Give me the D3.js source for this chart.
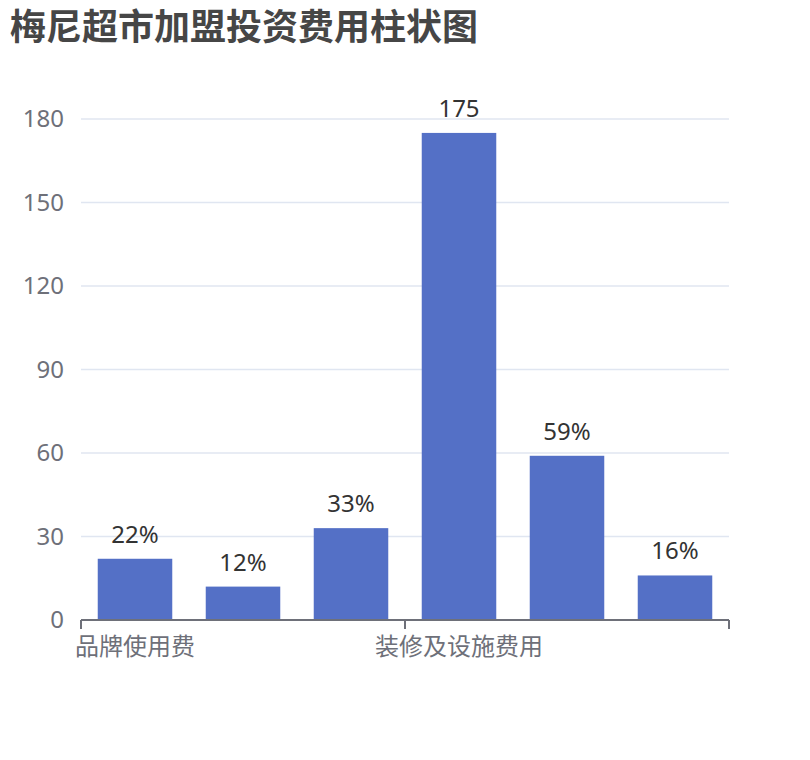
<!DOCTYPE html>
<html>
<head>
<meta charset="utf-8">
<script src="https://cdn.jsdelivr.net/npm/d3@7"></script>
<style>
  body { margin: 0; background: #fff; }
  svg { font-family: "Noto Sans", "Noto Sans CJK SC", sans-serif; }
</style>
</head>
<body>
<svg id="chart" width="810" height="760"></svg>
<script>
// data
const categories = ['品牌使用费', '保证金', '首批进货款', '装修及设施费用', '流动资金', '其他费用'];
const values = [22, 12, 33, 175, 59, 16];
const valueLabels = ['22%', '12%', '33%', '175', '59%', '16%'];
const yTicks = [0, 30, 60, 90, 120, 150, 180];
const shownLabels = [0, 3];   // only every 3rd category label fits

const svg = d3.select('#chart');
const margin = { top: 119, right: 81, bottom: 140, left: 81 };
const width = 810 - margin.left - margin.right;
const height = 760 - margin.top - margin.bottom;

svg.append('text')
    .attr('x', 10)
    .attr('y', 40)
    .attr('fill', '#464646')
    .style('font-size', '36px')
    .style('font-weight', 'bold')
    .text('梅尼超市加盟投资费用柱状图');

const g = svg.append('g')
    .attr('transform', `translate(${margin.left} ${margin.top})`);

const x = d3.scaleBand().domain(categories).range([0, width]).padding(0);
const y = d3.scaleLinear().domain([0, 180]).range([height, 0]);

// grid
g.selectAll('.grid')
    .data(yTicks.filter(d => d > 0))
    .enter().append('line')
    .attr('x1', 0).attr('x2', width)
    .attr('y1', d => y(d)).attr('y2', d => y(d))
    .attr('stroke', '#E0E6F1')
    .attr('stroke-width', 1.5);

// y labels
g.selectAll('.ylab')
    .data(yTicks)
    .enter().append('text')
    .attr('x', -17)
    .attr('y', d => y(d))
    .attr('dy', '0.35em')
    .attr('text-anchor', 'end')
    .attr('fill', '#6E7079')
    .style('font-size', '24px')
    .text(d => d);

// bars
const barW = x.bandwidth() * 0.69;
g.selectAll('.bar')
    .data(values)
    .enter().append('rect')
    .attr('x', (d, i) => x(categories[i]) + (x.bandwidth() - barW) / 2)
    .attr('y', d => y(d))
    .attr('width', barW)
    .attr('height', d => height - y(d))
    .attr('fill', '#5470C6');

g.selectAll('.vlab')
    .data(values)
    .enter().append('text')
    .attr('x', (d, i) => x(categories[i]) + x.bandwidth() / 2)
    .attr('y', d => y(d) - 16)
    .attr('text-anchor', 'middle')
    .attr('fill', '#333')
    .style('font-size', '24px')
    .text((d, i) => valueLabels[i]);

// x axis
g.append('line')
    .attr('x1', 0).attr('x2', width)
    .attr('y1', height).attr('y2', height)
    .attr('stroke', '#6E7079')
    .attr('stroke-width', 2);

g.selectAll('.tick')
    .data([0, 3, 6])
    .enter().append('line')
    .attr('x1', d => d * x.step()).attr('x2', d => d * x.step())
    .attr('y1', height).attr('y2', height + 9)
    .attr('stroke', '#6E7079')
    .attr('stroke-width', 2);

g.selectAll('.xlab')
    .data(shownLabels)
    .enter().append('text')
    .attr('x', d => x(categories[d]) + x.bandwidth() / 2)
    .attr('y', height + 35)
    .attr('text-anchor', 'middle')
    .attr('fill', '#6E7079')
    .style('font-size', '24px')
    .text(d => categories[d]);
</script>
</body>
</html>
